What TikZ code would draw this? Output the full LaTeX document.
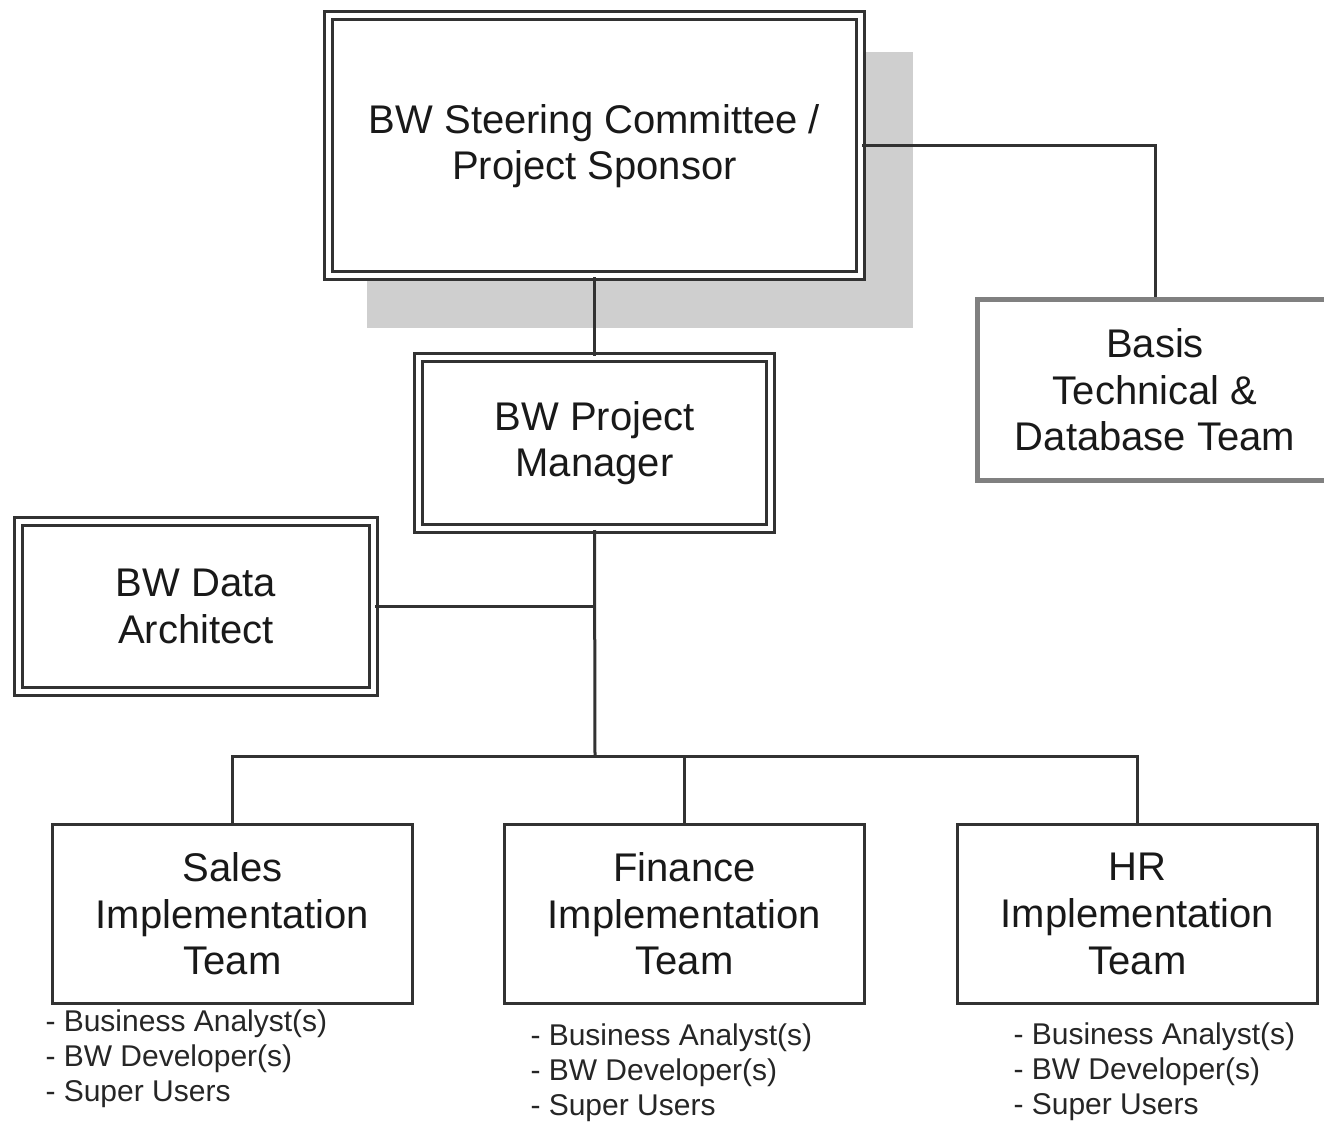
\documentclass[tikz,border=0pt]{standalone}
\usepackage{fontspec}
\setmainfont{Liberation Sans}
\definecolor{shadowgray}{RGB}{207,207,207}
\definecolor{linegray}{RGB}{50,50,50}
\definecolor{basisgray}{RGB}{128,128,128}
\tikzset{every picture/.style={line width=0.75pt}}
\tikzset{
  boxtext/.style={align=center, text=black!90, font=\fontsize{30}{35}\selectfont},
  dblbox/.style={boxtext, draw=linegray, fill=white, line width=2.25pt, double=white, double distance=3.75pt},
  teambox/.style={boxtext, draw=linegray, fill=white, line width=2.25pt},
  basisbox/.style={boxtext, draw=basisgray, fill=white, line width=3.75pt},
  wire/.style={draw=linegray, line width=2.25pt},
  roles/.style={anchor=north west, inner sep=0pt, align=left, text=black!85, font=\fontsize{22.5}{26.5}\selectfont}
}

\begin{document}
\begin{tikzpicture}[x=0.75pt,y=0.75pt,yscale=-1,xscale=1]
    \clip (0,0) rectangle (1324,1123);
    \fill[white] (0,0) rectangle (1324,1123);

    %Shadow
    \fill[shadowgray] (367,52) rectangle (913,328);

    %Boxes
    \node[dblbox, minimum width=399pt, minimum height=195pt] (steer) at (594.5,146) {BW Steering Committee /\\Project Sponsor};
    \node[dblbox, minimum width=264pt, minimum height=128.25pt] (pm) at (594.5,443) {BW Project\\Manager};
    \node[dblbox, minimum width=266.25pt, minimum height=127.5pt] (arch) at (196,606.5) {BW Data\\Architect};
    \node[basisbox, minimum width=267pt, minimum height=135pt] (basis) at (1155,390) {Basis\\Technical \&\\Database Team};
    \node[teambox, minimum width=270pt, minimum height=134.25pt] (sales) at (232.5,914) {Sales\\Implementation\\Team};
    \node[teambox, minimum width=270pt, minimum height=134.25pt] (fin) at (684.5,914) {Finance\\Implementation\\Team};
    \node[teambox, minimum width=270pt, minimum height=134.25pt] (hr) at (1137.5,914) {HR\\Implementation\\Team};

    %Straight Lines
    \coordinate (hub) at (595,756);
    \draw[wire] (steer.south) -- (pm.north);
    \draw[wire] (steer.east) -| (basis.north);
    \draw[wire] (pm.south) -- (hub);
    \draw[wire] (arch.east) -- (arch.east -| hub);
    \draw[wire] (sales.north) |- (hub) -| (hr.north);
    \draw[wire] (fin.north) -- (fin.north |- hub);

    % Text Node
    \node[roles] (salesroles) at (45,1009) {- Business Analyst(s)\\- BW Developer(s)\\- Super Users};
    % Text Node
    \node[roles] (finroles) at (530,1023) {- Business Analyst(s)\\- BW Developer(s)\\- Super Users};
    % Text Node
    \node[roles] (hrroles) at (1013,1022) {- Business Analyst(s)\\- BW Developer(s)\\- Super Users};

\end{tikzpicture}
\end{document}
